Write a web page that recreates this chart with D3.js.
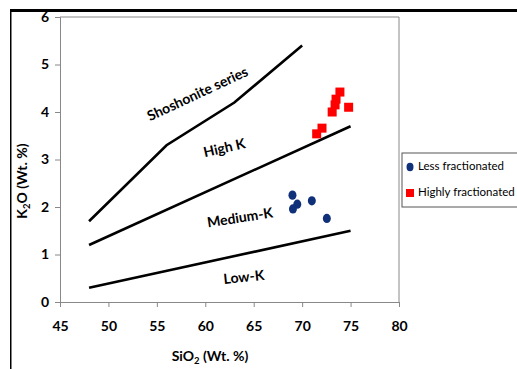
<!DOCTYPE html>
<html><head><meta charset="utf-8">
<script src="https://cdn.jsdelivr.net/npm/d3@7"></script>
<style>body{margin:0;background:#fff}svg{display:block}text{font-family:Lato,"Open Sans",sans-serif}</style>
</head><body><svg id="c" width="517" height="369"></svg>
<script>
// Data
const xTicks = [45,50,55,60,65,70,75,80];
const yTicks = [0,1,2,3,4,5,6];
const shoshoniteLine = [[48,1.7],[56,3.3],[63,4.2],[70,5.4]];
const highKLine = [[48,1.2],[75,3.7]];
const lowKLine = [[48,0.3],[75,1.5]];
const lessFractionated = [[69.0,2.25],[69.5,2.06],[69.05,1.96],[71.0,2.13],[72.55,1.76]];
const highlyFractionated = [[73.9,4.42],[73.5,4.27],[73.4,4.15],[73.1,4.0],[74.8,4.1],[72.05,3.66],[71.5,3.54]];
const regionLabels = [
  {text:"Shoshonite series", x:59.25, y:4.36, angle:-25},
  {text:"High K", x:62.0, y:3.22, angle:-13},
  {text:"Medium-K", x:63.6, y:1.75, angle:-9},
  {text:"Low-K", x:64.0, y:0.5, angle:-6}
];
const legendItems = [
  {label:"Less fractionated", shape:"circle", color:"#10307a"},
  {label:"Highly fractionated", shape:"square", color:"#ff0000"}
];

const svg = d3.select("#c");
const x = d3.scaleLinear().domain([45,80]).range([60,399]);
const y = d3.scaleLinear().domain([0,6]).range([302,17]);

// outer frame fragments
svg.append("rect").attr("x",10).attr("y",9).attr("width",507).attr("height",3).attr("fill","#000");
svg.append("rect").attr("x",10).attr("y",9).attr("width",1.5).attr("height",360).attr("fill","#000");

// plot box top/right
svg.append("path").attr("d",`M${x(45)},${y(6)}H${x(80)}V${y(0)}`).attr("fill","none").attr("stroke","#888").attr("stroke-width",1);

// axes
const xAxis = svg.append("g").attr("transform",`translate(0,${y(0)})`)
  .call(d3.axisBottom(x).tickValues(xTicks).tickSize(5).tickPadding(14).tickFormat(d3.format("d")));
const yAxis = svg.append("g").attr("transform",`translate(${x(45)},0)`)
  .call(d3.axisLeft(y).tickValues(yTicks).tickSize(5).tickPadding(6).tickFormat(d3.format("d")));
[xAxis,yAxis].forEach(g=>{
  g.select(".domain").attr("stroke","#888");
  g.selectAll(".tick line").attr("stroke","#888");
  g.selectAll(".tick text").attr("fill","#000").attr("font-size",14).attr("font-weight","bold").attr("font-family","Lato, sans-serif");
});

// boundary lines
const line = d3.line().x(d=>x(d[0])).y(d=>y(d[1]));
[shoshoniteLine,highKLine,lowKLine].forEach(l=>{
  svg.append("path").datum(l).attr("d",line).attr("fill","none").attr("stroke","#000").attr("stroke-width",2.6);
});

// region labels
svg.selectAll(".rl").data(regionLabels).enter().append("text")
  .attr("transform",d=>`translate(${x(d.x)},${y(d.y)}) rotate(${d.angle})`)
  .attr("text-anchor","middle").attr("dominant-baseline","middle")
  .attr("font-size",14).attr("font-weight","bold").attr("fill","#000").text(d=>d.text);

// points
svg.selectAll(".lf").data(lessFractionated).enter().append("ellipse")
  .attr("cx",d=>x(d[0])).attr("cy",d=>y(d[1])).attr("rx",4).attr("ry",4.6).attr("fill","#10307a");
svg.selectAll(".hf").data(highlyFractionated).enter().append("rect")
  .attr("x",d=>x(d[0])-4.5).attr("y",d=>y(d[1])-4.5).attr("width",9).attr("height",9).attr("fill","#ff0000");

// axis titles
const xt = svg.append("text").attr("x",210).attr("y",361).attr("text-anchor","middle")
  .attr("font-size",14).attr("font-weight","bold");
xt.append("tspan").text("SiO");
xt.append("tspan").attr("font-size",9.5).attr("dy",3).text("2");
xt.append("tspan").attr("dy",-3).text(" (Wt. %)");
const yt = svg.append("text").attr("transform","translate(27,181) rotate(-90)").attr("text-anchor","middle")
  .attr("font-size",14).attr("font-weight","bold");
yt.append("tspan").text("K");
yt.append("tspan").attr("font-size",9.5).attr("dy",3).text("2");
yt.append("tspan").attr("dy",-3).text("O (Wt. %)");

// legend
const lg = svg.append("g").attr("transform","translate(402,153)");
lg.append("rect").attr("x",0).attr("y",0).attr("width",130).attr("height",54).attr("fill","#fff").attr("stroke","#555").attr("stroke-width",1);
legendItems.forEach((it,i)=>{
  const cy = 14 + i*26;
  if(it.shape==="circle") lg.append("ellipse").attr("cx",8).attr("cy",cy).attr("rx",3.5).attr("ry",4.2).attr("fill",it.color);
  else lg.append("rect").attr("x",4).attr("y",cy-4).attr("width",8).attr("height",8).attr("fill",it.color);
  lg.append("text").attr("x",16).attr("y",cy).attr("dominant-baseline","middle").attr("font-size",11.5).attr("fill","#000").text(it.label);
});
</script></body></html>
